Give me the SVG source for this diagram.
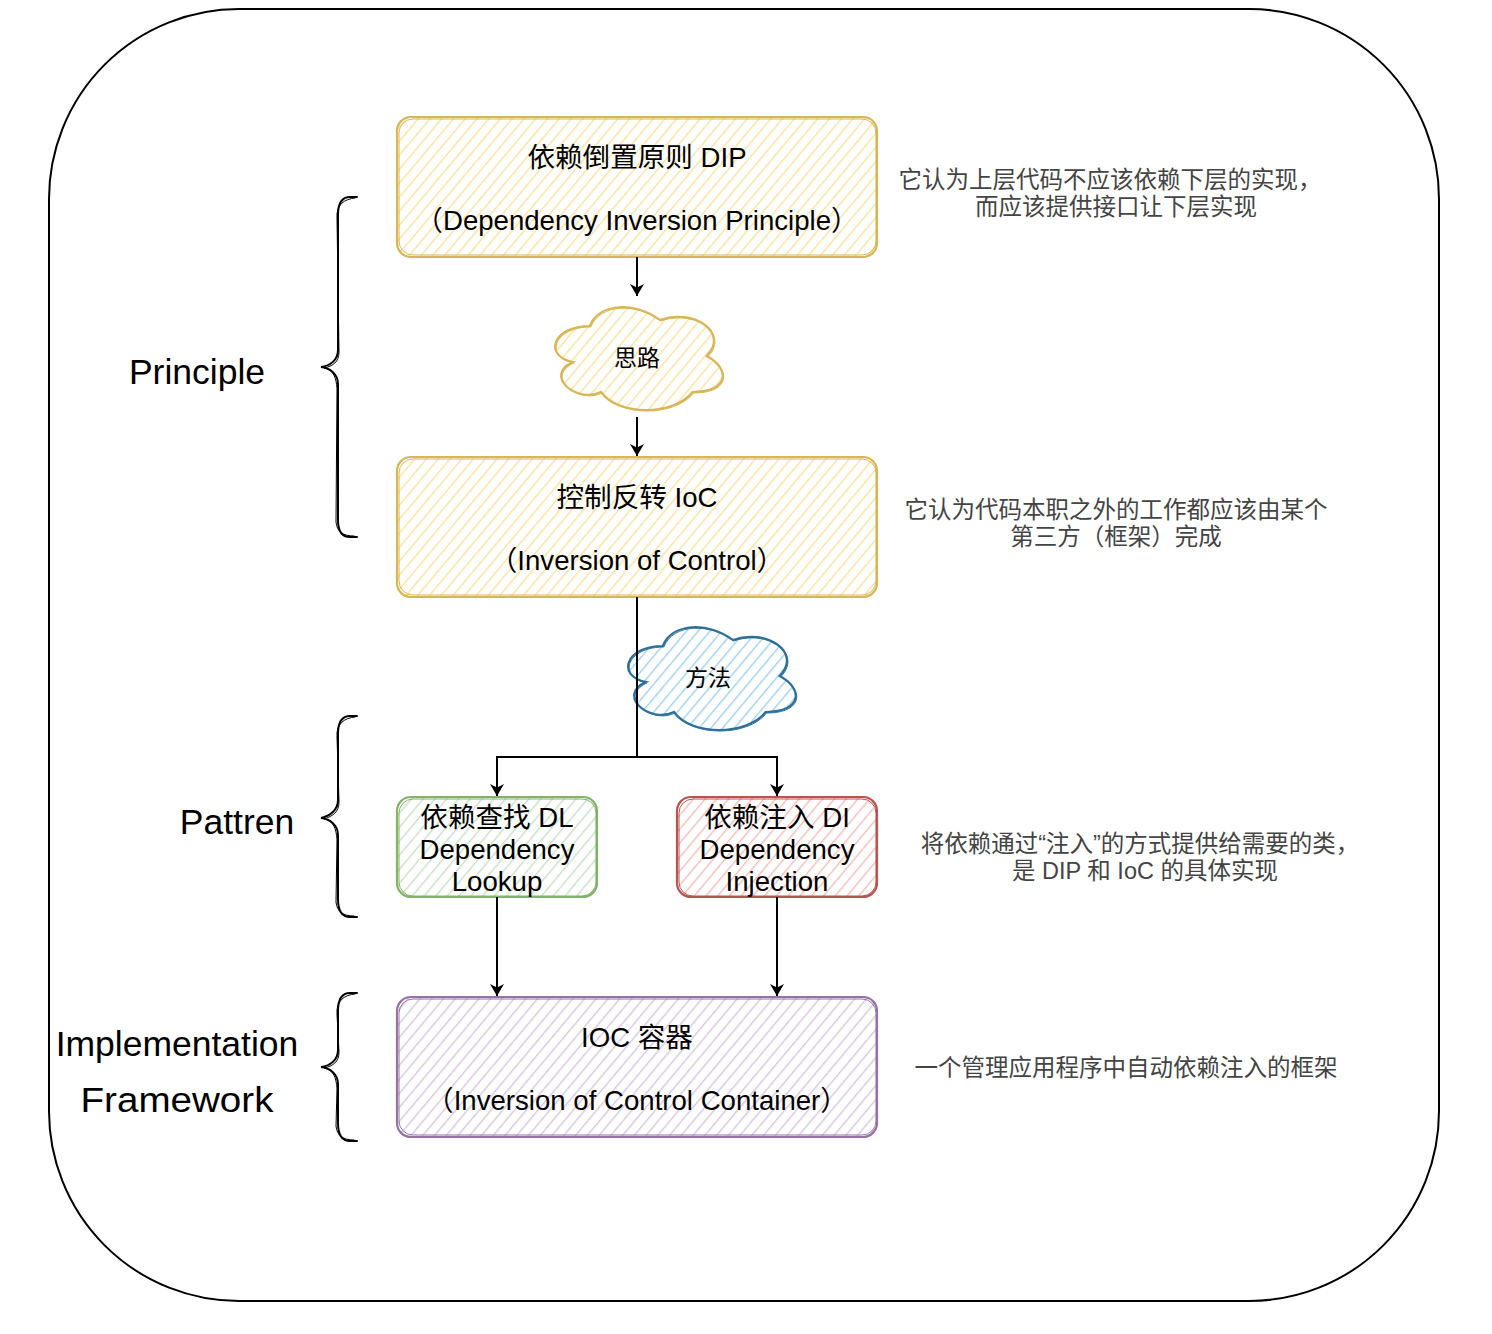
<svg xmlns="http://www.w3.org/2000/svg" width="1492" height="1334" viewBox="0 0 1492 1334">
<style>
  .t { font-family: "Liberation Sans", "Noto Sans CJK SC", sans-serif; fill: #000; text-anchor: middle; dominant-baseline: central; }
  .box { font-size: 27.6px; }
  .cl { font-size: 23px; }
  .ann { font-family: "Liberation Sans", "Noto Sans CJK SC", sans-serif; font-size: 23.5px; fill: #444444; text-anchor: middle; dominant-baseline: central; }
  .lab { font-family: "Liberation Sans", "Noto Sans CJK SC", sans-serif; font-size: 35.5px; fill: #000; text-anchor: middle; dominant-baseline: central; }
  .edge { fill: none; stroke: #000; stroke-width: 2; }
  .brace { fill: none; stroke: #000; stroke-width: 2; stroke-linecap: round; }
  .brace2 { fill: none; stroke: #000; stroke-width: 1; stroke-linecap: round; }
</style>
<defs>
  <pattern id="hy" width="9" height="9" patternUnits="userSpaceOnUse" patternTransform="rotate(40)"><line x1="0" y1="0" x2="0" y2="9" stroke="#f9e2a0" stroke-width="2.8"/></pattern>
  <pattern id="hb" width="9" height="9" patternUnits="userSpaceOnUse" patternTransform="rotate(40)"><line x1="0" y1="0" x2="0" y2="9" stroke="#9fd1ec" stroke-width="2.8"/></pattern>
  <pattern id="hg" width="9" height="9" patternUnits="userSpaceOnUse" patternTransform="rotate(40)"><line x1="0" y1="0" x2="0" y2="9" stroke="#c8e0c6" stroke-width="2.8"/></pattern>
  <pattern id="hr" width="9" height="9" patternUnits="userSpaceOnUse" patternTransform="rotate(40)"><line x1="0" y1="0" x2="0" y2="9" stroke="#f3bdba" stroke-width="2.8"/></pattern>
  <pattern id="hp" width="9" height="9" patternUnits="userSpaceOnUse" patternTransform="rotate(40)"><line x1="0" y1="0" x2="0" y2="9" stroke="#d6c7df" stroke-width="2.8"/></pattern>
  <marker id="arr" viewBox="0 0 12 14" refX="12" refY="7" markerWidth="12" markerHeight="14" markerUnits="userSpaceOnUse" orient="auto">
    <path d="M0,0 L12,7 L0,14 L3.5,7 Z" fill="#000"/>
  </marker>
</defs>

<rect id="frame" x="49" y="9" width="1390" height="1292" rx="190" ry="190" fill="none" stroke="#000" stroke-width="2"/>

<g id="dip">
  <rect x="397" y="117" width="480" height="140" rx="14" fill="url(#hy)"/>
  <rect x="397" y="117" width="480" height="140" rx="14" fill="none" stroke="#d6b656" stroke-width="2.2"/>
  <rect x="399" y="119" width="477" height="136" rx="14" fill="none" stroke="#d6b656" stroke-width="1"/>
  <text class="t box" x="637" y="157">依赖倒置原则 DIP</text>
  <text class="t box" x="637" y="220">（Dependency Inversion Principle）</text>
</g>

<g id="idea">
  <path transform="translate(543,296)" d="M46.75,30 C9.35,30 0,60 29.92,66 C0,79.2 33.66,108 57.97,96 C74.8,120 130.9,120 149.6,96 C187,96 187,72 163.63,60 C187,36 149.6,12 116.88,24 C93.5,6 56.1,6 46.75,30 Z" fill="url(#hy)" stroke="#d6b656" stroke-width="2.2"/>
  <path transform="translate(544,297)" d="M46.75,30 C9.35,30 0,60 29.92,66 C0,79.2 33.66,108 57.97,96 C74.8,120 130.9,120 149.6,96 C187,96 187,72 163.63,60 C187,36 149.6,12 116.88,24 C93.5,6 56.1,6 46.75,30 Z" fill="none" stroke="#d6b656" stroke-width="1"/>
  <text class="t cl" x="637" y="358">思路</text>
</g>

<g id="ioc">
  <rect x="397" y="457" width="480" height="140" rx="14" fill="url(#hy)"/>
  <rect x="397" y="457" width="480" height="140" rx="14" fill="none" stroke="#d6b656" stroke-width="2.2"/>
  <rect x="399" y="459" width="477" height="136" rx="14" fill="none" stroke="#d6b656" stroke-width="1"/>
  <text class="t box" x="637" y="497">控制反转 IoC</text>
  <text class="t box" x="637" y="560">（Inversion of Control）</text>
</g>

<g id="method">
  <path transform="translate(616,616)" d="M46.75,30 C9.35,30 0,60 29.92,66 C0,79.2 33.66,108 57.97,96 C74.8,120 130.9,120 149.6,96 C187,96 187,72 163.63,60 C187,36 149.6,12 116.88,24 C93.5,6 56.1,6 46.75,30 Z" fill="url(#hb)" stroke="#2e6f98" stroke-width="2.2"/>
  <path transform="translate(617,617)" d="M46.75,30 C9.35,30 0,60 29.92,66 C0,79.2 33.66,108 57.97,96 C74.8,120 130.9,120 149.6,96 C187,96 187,72 163.63,60 C187,36 149.6,12 116.88,24 C93.5,6 56.1,6 46.75,30 Z" fill="none" stroke="#2e6f98" stroke-width="1"/>
  <text class="t cl" x="708" y="678">方法</text>
</g>

<g id="dl">
  <rect x="397" y="797" width="200" height="100" rx="14" fill="url(#hg)"/>
  <rect x="397" y="797" width="200" height="100" rx="14" fill="none" stroke="#82b366" stroke-width="2.2"/>
  <rect x="399" y="799" width="197" height="97" rx="14" fill="none" stroke="#82b366" stroke-width="1"/>
  <text class="t box" x="497" y="817">依赖查找 DL</text>
  <text class="t box" x="497" y="849">Dependency</text>
  <text class="t box" x="497" y="881">Lookup</text>
</g>

<g id="di">
  <rect x="677" y="797" width="200" height="100" rx="14" fill="url(#hr)"/>
  <rect x="677" y="797" width="200" height="100" rx="14" fill="none" stroke="#b85450" stroke-width="2.2"/>
  <rect x="679" y="799" width="197" height="97" rx="14" fill="none" stroke="#b85450" stroke-width="1"/>
  <text class="t box" x="777" y="817">依赖注入 DI</text>
  <text class="t box" x="777" y="849">Dependency</text>
  <text class="t box" x="777" y="881">Injection</text>
</g>

<g id="container">
  <rect x="397" y="997" width="480" height="140" rx="14" fill="url(#hp)"/>
  <rect x="397" y="997" width="480" height="140" rx="14" fill="none" stroke="#9673a6" stroke-width="2.2"/>
  <rect x="399" y="999" width="477" height="136" rx="14" fill="none" stroke="#9673a6" stroke-width="1"/>
  <text class="t box" x="637" y="1037">IOC 容器</text>
  <text class="t box" x="637" y="1100">（Inversion of Control Container）</text>
</g>

<g id="connectors">
  <path class="edge" d="M637,257 V296" marker-end="url(#arr)"/>
  <path class="edge" d="M637,417 V456" marker-end="url(#arr)"/>
  <path class="edge" d="M637,597 V757 H497 V796" marker-end="url(#arr)"/>
  <path class="edge" d="M637,757 H777 V796" marker-end="url(#arr)"/>
  <path class="edge" d="M497,897 V996" marker-end="url(#arr)"/>
  <path class="edge" d="M777,897 V996" marker-end="url(#arr)"/>
</g>

<g id="braces">
  <path class="brace" d="M357,197 H350 C342,197 338,203 338,215 V350 C338,360 330,366 321,367 C330,368 338,374 338,384 V520 C338,532 342,537 350,537 H357"/>
  <path class="brace2" d="M355,198 C344,199 336,205 337,218 L339,352 C339,362 333,366 324,368 C334,370 336,378 337,388 L336,522 C337,532 343,536 354,536"/>
  <path class="brace" d="M357,716 H350 C342,716 338,722 338,734 V800 C338,810 330,816 321,818 C330,819 338,825 338,835 V899 C338,911 342,917 350,917 H357"/>
  <path class="brace2" d="M355,717 C344,718 336,724 337,737 L339,802 C339,812 333,816 324,819 C334,821 336,829 337,839 L336,902 C337,912 343,916 354,916"/>
  <path class="brace" d="M357,993 H350 C342,993 338,999 338,1011 V1050 C338,1060 330,1066 321,1067 C330,1068 338,1074 338,1084 V1123 C338,1135 342,1141 350,1141 H357"/>
  <path class="brace2" d="M355,994 C344,995 336,1001 337,1014 L339,1052 C339,1062 333,1066 324,1068 C334,1070 336,1078 337,1088 L336,1126 C337,1136 343,1140 354,1140"/>
</g>

<g id="labels">
  <text class="lab" x="197" y="372">Principle</text>
  <text class="lab" x="237" y="822">Pattren</text>
  <text class="lab" x="177" y="1044">Implementation</text>
  <text class="lab" x="177" y="1100" textLength="193" lengthAdjust="spacingAndGlyphs">Framework</text>
</g>

<g id="annotations">
  <text class="ann" x="1110" y="180">它认为上层代码不应该依赖下层的实现，</text>
  <text class="ann" x="1116" y="207">而应该提供接口让下层实现</text>
  <text class="ann" x="1116" y="510">它认为代码本职之外的工作都应该由某个</text>
  <text class="ann" x="1116" y="537">第三方（框架）完成</text>
  <text class="ann" x="1140" y="844">将依赖通过“注入”的方式提供给需要的类，</text>
  <text class="ann" x="1145" y="871">是 DIP 和 IoC 的具体实现</text>
  <text class="ann" x="1126" y="1068">一个管理应用程序中自动依赖注入的框架</text>
</g>
</svg>
